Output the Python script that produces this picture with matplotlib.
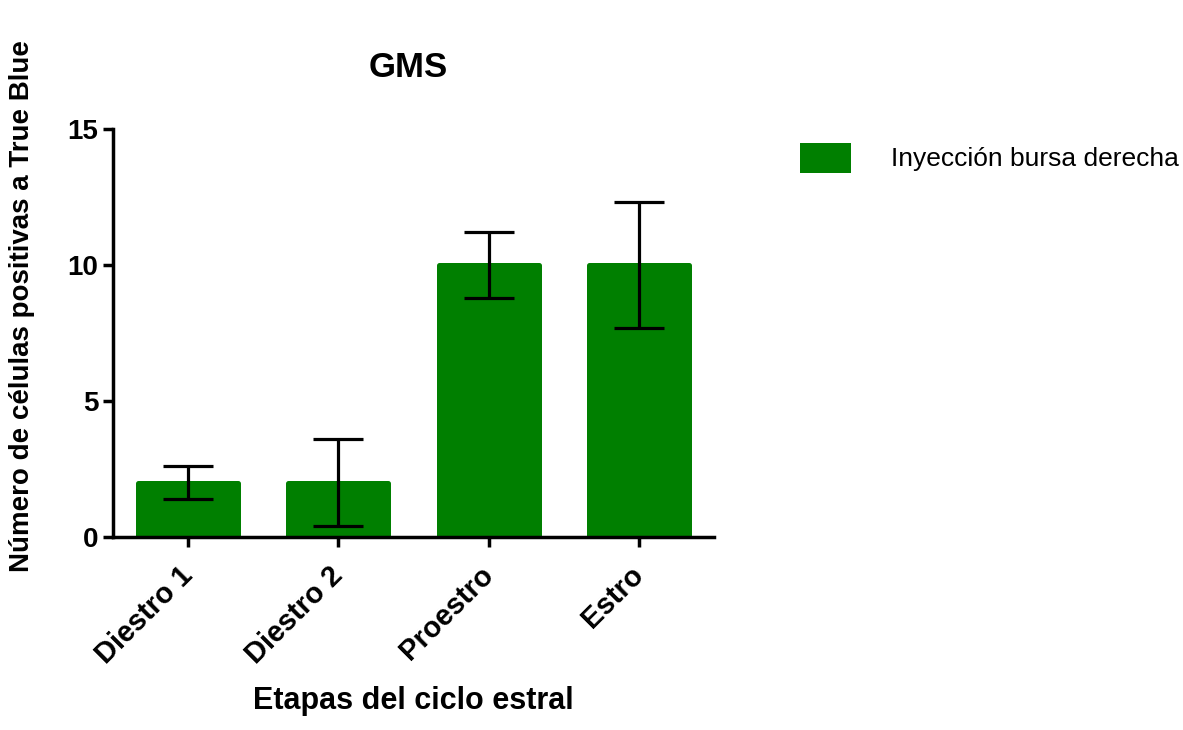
import matplotlib
matplotlib.use("Agg")
import numpy as np
import matplotlib.pyplot as plt

plt.rcParams['font.family'] = ['Liberation Sans', 'DejaVu Sans']

# mean and SEM per stage
etapas = ["Diestro 1", "Diestro 2", "Proestro", "Estro"]
celulas = [2.0, 2.0, 10.0, 10.0]
error = [0.6, 1.6, 1.2, 2.3]
serie = "Inyección bursa derecha"
verde = "#007f00"

fig = plt.figure(figsize=(11.83, 7.30), dpi=100)
ax = fig.add_axes([0.0955, 0.2644, 0.5081, 0.5589])

x = np.arange(len(etapas))
# a thick round-joined edge gives the bars their soft corners
ax.bar(x, celulas, width=0.667, color=verde, edgecolor=verde,
       linewidth=3.6, joinstyle="round", label=serie, zorder=2)
ax.errorbar(x, celulas, yerr=error, fmt="none", ecolor="black",
            elinewidth=2.3, capsize=18, capthick=2.3, zorder=3)

ax.set_xlim(-0.5, 3.5)
ax.set_ylim(0, 15)
ax.set_yticks([0, 5, 10, 15])
ax.set_xticks(x)
ax.set_xticklabels(etapas, rotation=45, ha="right", va="center",
                   rotation_mode="anchor", fontsize=21, fontweight="bold")
for t in ax.get_yticklabels():
    t.set_fontsize(20)
    t.set_fontweight("bold")

for s in ["top", "right"]:
    ax.spines[s].set_visible(False)
for s in ["left", "bottom"]:
    ax.spines[s].set_linewidth(2.5)
ax.tick_params(axis="both", direction="out", length=7.5, width=2.5, pad=3)
ax.tick_params(axis="x", pad=17)

ax.set_title("GMS", fontsize=25, fontweight="bold", x=0.492, y=1.127, pad=0)
ax.set_xlabel("Etapas del ciclo estral", fontsize=22, fontweight="bold")
ax.xaxis.set_label_coords(0.5, -0.365)
ax.set_ylabel("Número de células positivas a True Blue", fontsize=20,
              fontweight="bold")
ax.yaxis.set_label_coords(-0.130, 0.566)

fig.legend(loc="upper left", bbox_to_anchor=(789 / 1183, 1 - 132 / 730),
           frameon=False, fontsize=19, borderpad=0, handlelength=1.75,
           handleheight=1.05, handletextpad=1.6)

fig.savefig("out.png", dpi=100)
